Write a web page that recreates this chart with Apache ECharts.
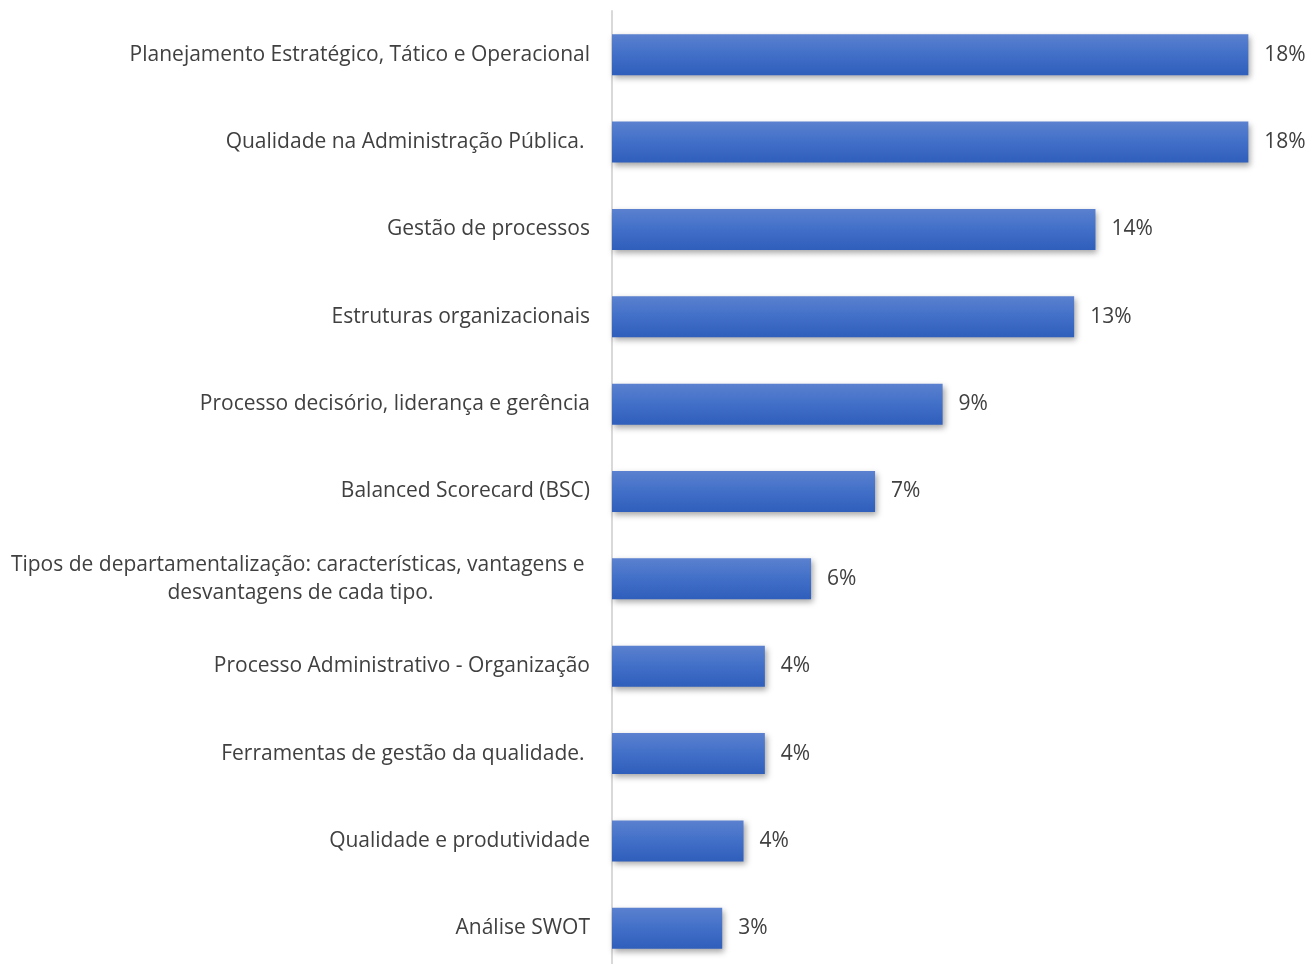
<!DOCTYPE html>
<html><head><meta charset="utf-8">
<script src="https://cdn.jsdelivr.net/npm/echarts@6/dist/echarts.min.js"></script>
<style>html,body{margin:0;padding:0;background:#fff}#c{width:1310px;height:964px}</style>
</head><body><div id="c"></div>
<script>
const categories = [
  "Planejamento Estratégico, Tático e Operacional",
  "Qualidade na Administração Pública. ",
  "Gestão de processos",
  "Estruturas organizacionais",
  "Processo decisório, liderança e gerência",
  "Balanced Scorecard (BSC)",
  "Tipos de departamentalização: características, vantagens e \ndesvantagens de cada tipo.",
  "Processo Administrativo - Organização",
  "Ferramentas de gestão da qualidade. ",
  "Qualidade e produtividade",
  "Análise SWOT"
];
const shares = [0.179, 0.179, 0.136, 0.130, 0.093, 0.074, 0.056, 0.043, 0.043, 0.037, 0.031];

const chart = echarts.init(document.getElementById('c'));
chart.setOption({
  backgroundColor: '#fff',
  animation: false,
  grid: { left: 612, top: 11, width: 711, height: 961, containLabel: false, outerBoundsMode: 'none' },
  xAxis: { type: 'value', min: 0, max: 0.2, show: false },
  yAxis: {
    type: 'category', inverse: true, data: categories,
    axisLine: { show: true, lineStyle: { color: '#d9d9d9', width: 2 } },
    axisTick: { show: false },
    splitLine: { show: false },
    axisLabel: {
      margin: 22,
      fontFamily: 'Open Sans', fontSize: 21, color: '#404040',
      formatter: v => '{a|' + v.split('\n').join('}\n{a|') + '}',
      rich: { a: { fontFamily: 'Open Sans', fontSize: 21, color: '#404040', align: 'center', lineHeight: 28 } }
    }
  },
  series: [{
    type: 'bar', data: shares, barWidth: 41,
    itemStyle: {
      color: new echarts.graphic.LinearGradient(0, 0, 0, 1, [
        { offset: 0, color: '#5b81cf' },
        { offset: 0.5, color: '#416fc8' },
        { offset: 1, color: '#2f5ebb' }
      ]),
      shadowColor: 'rgba(0,0,0,0.35)', shadowBlur: 6, shadowOffsetX: 2, shadowOffsetY: 3
    },
    label: {
      show: true, position: 'right', distance: 16,
      fontFamily: 'Open Sans', fontSize: 21, color: '#404040',
      formatter: p => Math.round(p.value * 100) + '%'
    }
  }]
});
</script></body></html>
